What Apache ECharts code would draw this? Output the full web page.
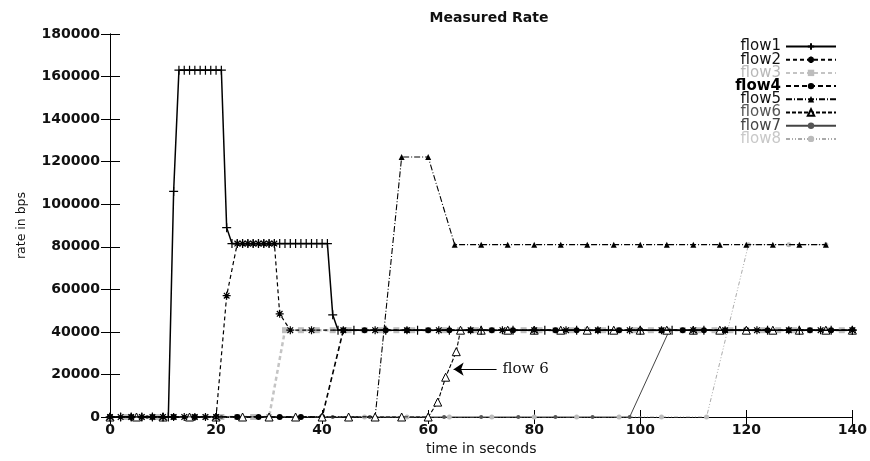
<!DOCTYPE html>
<html lang="en">
<head>
    <meta charset="utf-8">
    <title>Measured Rate</title>
    <script src="https://cdn.jsdelivr.net/npm/echarts@6/dist/echarts.min.js"></script>
    <style>
        html, body { margin: 0; padding: 0; background: #fff; }
        #chart { width: 870px; height: 461px; }
    </style>
</head>
<body>
    <div id="chart"></div>
    <script>
        // axis ticks
        const xTicks = [0, 20, 40, 60, 80, 100, 120, 140];
        const yTicks = [0, 20000, 40000, 60000, 80000, 100000, 120000, 140000, 160000, 180000];

        // flow1
        const flow1Time = [0, 2, 4, 6, 8, 10, 11, 12, 13, 14, 15, 16, 17, 18, 19, 20, 21, 22, 23, 24, 25, 26, 27, 28, 29, 30, 31, 32, 33, 34, 35, 36, 37, 38, 39, 40, 41, 42, 43, 46, 52, 58, 64, 70, 76, 82, 88, 94, 100, 106, 112, 118, 124, 130, 136, 140];
        const flow1Rate = [0, 0, 0, 0, 0, 0, 0, 106000, 163000, 163000, 163000, 163000, 163000, 163000, 163000, 163000, 163000, 89000, 81500, 81500, 81500, 81500, 81500, 81500, 81500, 81500, 81500, 81500, 81500, 81500, 81500, 81500, 81500, 81500, 81500, 81500, 81500, 48000, 40800, 40800, 40800, 40800, 40800, 40800, 40800, 40800, 40800, 40800, 40800, 40800, 40800, 40800, 40800, 40800, 40800, 40800];

        // flow2
        const flow2Time = [0, 2, 4, 6, 8, 10, 12, 14, 16, 18, 20, 22, 24, 25, 26, 27, 28, 29, 30, 31, 32, 34, 38, 44, 50, 56, 62, 68, 74, 80, 86, 92, 98, 104, 110, 116, 122, 128, 134, 140];
        const flow2Rate = [0, 0, 0, 0, 0, 0, 0, 0, 0, 0, 0, 57000, 81500, 81500, 81500, 81500, 81500, 81500, 81500, 81500, 48500, 40800, 40800, 40800, 40800, 40800, 40800, 40800, 40800, 40800, 40800, 40800, 40800, 40800, 40800, 40800, 40800, 40800, 40800, 40800];

        // flow3
        const flow3Time = [0, 3, 6, 9, 12, 15, 18, 21, 24, 27, 30, 33, 36, 39, 42, 45, 48, 51, 54, 57, 60, 63, 66, 69, 72, 75, 78, 81, 84, 87, 90, 93, 96, 99, 102, 105, 108, 111, 114, 117, 120, 123, 126, 129, 132, 135, 138, 140];
        const flow3Rate = [0, 0, 0, 0, 0, 0, 0, 0, 0, 0, 0, 40800, 40800, 40800, 40800, 40800, 40800, 40800, 40800, 40800, 40800, 40800, 40800, 40800, 40800, 40800, 40800, 40800, 40800, 40800, 40800, 40800, 40800, 40800, 40800, 40800, 40800, 40800, 40800, 40800, 40800, 40800, 40800, 40800, 40800, 40800, 40800, 40800];

        // flow4
        const flow4Time = [0, 4, 8, 12, 16, 20, 24, 28, 32, 36, 40, 44, 48, 52, 56, 60, 64, 68, 72, 76, 80, 84, 88, 92, 96, 100, 104, 108, 112, 116, 120, 124, 128, 132, 136, 140];
        const flow4Rate = [0, 0, 0, 0, 0, 0, 0, 0, 0, 0, 0, 40800, 40800, 40800, 40800, 40800, 40800, 40800, 40800, 40800, 40800, 40800, 40800, 40800, 40800, 40800, 40800, 40800, 40800, 40800, 40800, 40800, 40800, 40800, 40800, 40800];

        // flow5
        const flow5Time = [0, 5, 10, 15, 20, 25, 30, 35, 40, 45, 50, 55, 60, 65, 70, 75, 80, 85, 90, 95, 100, 105, 110, 115, 120, 125, 130, 135];
        const flow5Rate = [0, 0, 0, 0, 0, 0, 0, 0, 0, 0, 0, 122200, 122200, 81000, 81000, 81000, 81000, 81000, 81000, 81000, 81000, 81000, 81000, 81000, 81000, 81000, 81000, 81000];

        // flow6
        const flow6Time = [0, 5, 10, 15, 20, 25, 30, 35, 40, 45, 50, 55, 60, 61.8, 63.3, 65.3, 66.1, 70, 75, 80, 85, 90, 95, 100, 105, 110, 115, 120, 125, 130, 135, 140];
        const flow6Rate = [0, 0, 0, 0, 0, 0, 0, 0, 0, 0, 0, 0, 0, 7000, 18700, 30700, 40800, 40800, 40800, 40800, 40800, 40800, 40800, 40800, 40800, 40800, 40800, 40800, 40800, 40800, 40800, 40800];

        // flow7
        const flow7Time = [0, 7, 14, 21, 28, 35, 42, 49, 56, 63, 70, 77, 84, 91, 98, 105.5, 110, 115, 120, 125, 130, 135, 140];
        const flow7Rate = [0, 0, 0, 0, 0, 0, 0, 0, 0, 0, 0, 0, 0, 0, 0, 40800, 40800, 40800, 40800, 40800, 40800, 40800, 40800];

        // flow8
        const flow8Time = [0, 8, 16, 24, 32, 40, 48, 56, 64, 72, 80, 88, 96, 104, 112.5, 120.4, 128, 135];
        const flow8Rate = [0, 0, 0, 0, 0, 0, 0, 0, 0, 0, 0, 0, 0, 0, 0, 81000, 81000, 81000];

        // "flow 6" arrow note
        const noteTail = [72.9, 22500];
        const noteTip = [64.8, 22500];

        const plusPath = 'path://M0,5L10,5M5,0L5,10';
        const starPath = 'path://M5,0L5,10M0,5L10,5M1.5,1.5L8.5,8.5M8.5,1.5L1.5,8.5';

        const font = 'DejaVu Sans';

        function zip(ts, vs) {
            return ts.map(function (t, i) { return [t, vs[i]]; });
        }

        function flow(name, ts, vs, opts) {
            return Object.assign({
                name: name,
                type: 'line',
                data: zip(ts, vs),
                showSymbol: true,
                animation: false,
                silent: true,
                emphasis: { disabled: true }
            }, opts);
        }

        const chart = echarts.init(document.getElementById('chart'), null, { renderer: 'canvas' });

        const axisLineStyle = { show: true, lineStyle: { color: '#000', width: 1 } };

        chart.setOption({
            backgroundColor: '#fff',
            title: {
                text: 'Measured Rate',
                left: 484,
                textAlign: 'center',
                top: 6,
                textStyle: { fontFamily: font, fontSize: 14, fontWeight: 'bold', color: '#111' }
            },
            legend: {
                orient: 'vertical',
                right: 33,
                top: 39,
                padding: 0,
                align: 'right',
                itemWidth: 50,
                itemHeight: 8,
                itemGap: -1.8,
                backgroundColor: '#fff',
                textStyle: { fontFamily: font, fontSize: 15, lineHeight: 13, color: '#111' },
                data: [
                    { name: 'flow1' },
                    { name: 'flow2' },
                    { name: 'flow3', textStyle: { color: '#b8b8b8' } },
                    { name: 'flow4', textStyle: { fontWeight: 'bold', color: '#000' } },
                    { name: 'flow5' },
                    { name: 'flow6', textStyle: { color: '#555' } },
                    { name: 'flow7', textStyle: { color: '#444' } },
                    { name: 'flow8', textStyle: { color: '#c8c8c8' } }
                ]
            },
            grid: { left: 110, right: 14, top: 34, bottom: 40 },
            xAxis: [{
                type: 'value',
                min: xTicks[0],
                max: xTicks[xTicks.length - 1],
                interval: 20,
                position: 'bottom',
                name: 'time in seconds',
                nameLocation: 'middle',
                nameGap: 25,
                nameTextStyle: { fontFamily: font, fontSize: 14, color: '#111' },
                axisLine: axisLineStyle,
                axisTick: { inside: true, length: 7, lineStyle: { color: '#000' } },
                axisLabel: { margin: 6, fontFamily: font, fontSize: 14, fontWeight: 'bold', color: '#111' },
                splitLine: { show: false }
            }, {
                type: 'value',
                min: xTicks[0],
                max: xTicks[xTicks.length - 1],
                interval: 20,
                position: 'top',
                axisLine: axisLineStyle,
                axisTick: { inside: true, length: 7, lineStyle: { color: '#000' } },
                axisLabel: { show: false },
                splitLine: { show: false }
            }],
            yAxis: [{
                type: 'value',
                min: yTicks[0],
                max: yTicks[yTicks.length - 1],
                interval: 20000,
                position: 'left',
                name: 'rate in bps',
                nameLocation: 'middle',
                nameGap: 82,
                nameTextStyle: { fontFamily: font, fontSize: 12.5, color: '#111' },
                axisLine: axisLineStyle,
                axisTick: { inside: true, length: 10, lineStyle: { color: '#000' } },
                axisLabel: {
                    margin: 10, fontFamily: font, fontSize: 14, fontWeight: 'bold', color: '#111',
                    formatter: function (v) { return String(v); }
                },
                splitLine: { show: false }
            }, {
                type: 'value',
                min: yTicks[0],
                max: yTicks[yTicks.length - 1],
                interval: 20000,
                position: 'right',
                axisLine: axisLineStyle,
                axisTick: { inside: true, length: 9, lineStyle: { color: '#000' } },
                axisLabel: { show: false },
                splitLine: { show: false }
            }],
            series: [
                flow('flow1', flow1Time, flow1Rate, {
                    z: 4,
                    symbol: plusPath, symbolSize: 9,
                    lineStyle: { color: '#000', width: 1.5, type: 'solid' },
                    itemStyle: { color: '#000', borderColor: '#000', borderWidth: 1.2 }
                }),
                flow('flow2', flow2Time, flow2Rate, {
                    z: 4,
                    symbol: starPath, symbolSize: 8,
                    lineStyle: { color: '#000', width: 1.2, type: [4, 3] },
                    itemStyle: { color: '#000', borderColor: '#000', borderWidth: 1.2 }
                }),
                flow('flow3', flow3Time, flow3Rate, {
                    z: 1,
                    symbol: 'rect', symbolSize: 6,
                    lineStyle: { color: '#c4c4c4', width: 2.5, type: [4, 3] },
                    itemStyle: { color: '#bdbdbd', borderWidth: 0 }
                }),
                flow('flow4', flow4Time, flow4Rate, {
                    z: 3,
                    symbol: 'circle', symbolSize: 6,
                    lineStyle: { color: '#000', width: 1.6, type: [5, 3] },
                    itemStyle: { color: '#000', borderWidth: 0 }
                }),
                flow('flow5', flow5Time, flow5Rate, {
                    z: 3,
                    symbol: 'triangle', symbolSize: 6,
                    lineStyle: { color: '#000', width: 1.1, type: [6, 2, 1, 2] },
                    itemStyle: { color: '#000', borderWidth: 0 }
                }),
                flow('flow6', flow6Time, flow6Rate, {
                    z: 3,
                    symbol: 'triangle', symbolSize: 8,
                    lineStyle: { color: '#000', width: 1.1, type: [4, 2] },
                    itemStyle: { color: '#fff', borderColor: '#000', borderWidth: 1 },
                    markLine: {
                        silent: true,
                        animation: false,
                        symbol: ['none', 'arrow'],
                        symbolSize: 10,
                        lineStyle: { color: '#000', width: 1, type: 'solid' },
                        label: {
                            show: true,
                            position: 'start',
                            distance: 6,
                            formatter: 'flow 6',
                            fontFamily: 'DejaVu Serif',
                            fontSize: 15,
                            color: '#111'
                        },
                        emphasis: { disabled: true },
                        data: [[{ coord: noteTail }, { coord: noteTip }]]
                    }
                }),
                flow('flow7', flow7Time, flow7Rate, {
                    z: 2,
                    symbol: 'circle', symbolSize: 4,
                    lineStyle: { color: '#444', width: 1, type: 'solid' },
                    itemStyle: { color: '#555', borderWidth: 0 }
                }),
                flow('flow8', flow8Time, flow8Rate, {
                    z: 2,
                    symbol: 'circle', symbolSize: 5,
                    lineStyle: { color: '#aaa', width: 1, type: [4, 2, 1, 2, 1, 2] },
                    itemStyle: { color: '#bbb', borderWidth: 0 }
                })
            ]
        });
    </script>
</body>
</html>
